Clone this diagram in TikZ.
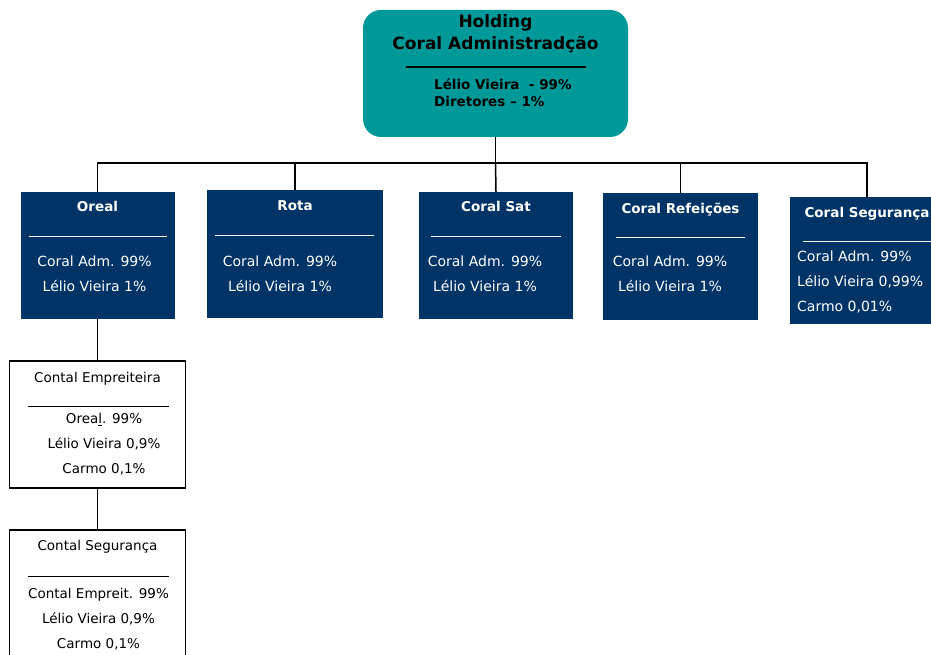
\documentclass[tikz,border=0pt]{standalone}
\usepackage{fontspec}
\setmainfont{DejaVu Sans}
\usetikzlibrary{positioning,calc}
\definecolor{holdteal}{RGB}{0,153,153}
\definecolor{firmblue}{RGB}{0,51,102}

\begin{document}
\begin{tikzpicture}[
    x=1pt, y=-1pt,
    hold/.style={fill=holdteal, rounded corners=18pt, minimum width=265pt, minimum height=127pt, inner sep=0pt},
    firm/.style={fill=firmblue, minimum width=154pt, minimum height=127pt, inner sep=0pt},
    subfirm/.style={draw=black, line width=1.2pt, fill=white, minimum width=176pt, minimum height=127pt, inner sep=0pt},
    holdtitle/.style={font=\fontsize{17}{22}\selectfont\bfseries, inner sep=0pt, align=center, anchor=north},
    holdshare/.style={font=\fontsize{13.5}{17}\selectfont\bfseries, inner sep=0pt, align=left, anchor=north west},
    title/.style={font=\fontsize{13.5}{16}\selectfont\bfseries, text=white, inner sep=0pt, anchor=base},
    share/.style={font=\fontsize{14}{25}\selectfont, text=white, inner sep=0pt, align=center, anchor=north},
    subtitle/.style={font=\fontsize{13.5}{16}\selectfont, inner sep=0pt, anchor=base},
    subshare/.style={font=\fontsize{13.5}{25}\selectfont, inner sep=0pt, align=center, anchor=north},
    rule/.style={white, line width=1pt},
    subrule/.style={black, line width=1pt},
    link/.style={black, line width=1.5pt}
]
\useasboundingbox (0,0) rectangle (931,655);

% Holding
\node[hold] (holding) at (495.5,73.5) {};
\node[holdtitle] (holdname) at ([yshift=-4.5pt]holding.north) {Holding\\Coral Administradção};
\draw[black, line width=1.5pt] ([xshift=-90pt,yshift=-57pt]holding.north) -- ++(180,0);
\node[holdshare] (holdshare) at (434,79) {Lélio Vieira\ \ - 99\%\\Diretores – 1\%};

% Subsidiaries - first row
\node[firm] (oreal) at (97.5,255.5) {};
\node[firm, minimum width=176pt, minimum height=128pt] (rota) at (295,254) {};
\node[firm] (sat) at (496,255.5) {};
\node[firm, minimum width=155pt] (refeicoes) at (680.5,256.5) {};
\node[firm] (seguranca) at (867,260.5) {};

% Titles
\node[title] (orealT) at ([yshift=-19.5pt]oreal.north) {Oreal};
\node[title] (rotaT) at ([yshift=-20.5pt]rota.north) {Rota};
\node[title] (satT) at ([yshift=-19.5pt]sat.north) {Coral Sat};
\node[title] (refeicoesT) at ([yshift=-20.5pt]refeicoes.north) {Coral Refeições};
\node[title] (segurancaT) at ([yshift=-20.5pt]seguranca.north) {Coral Segurança};

% Separators
\draw[rule] ([xshift=-69pt,yshift=-45pt]oreal.north) -- ++(138,0);
\draw[rule] ([xshift=-80pt,yshift=-46pt]rota.north) -- ++(159,0);
\draw[rule] ([xshift=-65pt,yshift=-45pt]sat.north) -- ++(130,0);
\draw[rule] ([xshift=-64.5pt,yshift=-45pt]refeicoes.north) -- ++(129,0);
\draw[rule] ([xshift=-64pt,yshift=-45pt]seguranca.north) -- ++(130,0);

% Shareholders
\node[share] (orealS) at ([xshift=-3pt,yshift=-63.5pt]oreal.north) {Coral Adm. 99\%\\Lélio Vieira 1\%};
\node[share] (rotaS) at ([xshift=-15pt,yshift=-65.5pt]rota.north) {Coral Adm. 99\%\\Lélio Vieira 1\%};
\node[share] (satS) at ([xshift=-11pt,yshift=-63.5pt]sat.north) {Coral Adm. 99\%\\Lélio Vieira 1\%};
\node[share] (refeicoesS) at ([xshift=-10.5pt,yshift=-62.5pt]refeicoes.north) {Coral Adm. 99\%\\Lélio Vieira 1\%};
\node[share, align=left, anchor=north west] (segurancaS) at ([xshift=-70pt,yshift=-53.5pt]seguranca.north) {Coral Adm. 99\%\\Lélio Vieira 0,99\%\\Carmo 0,01\%};

% Contal companies
\node[subfirm] (empreiteira) at (97.5,424.5) {};
\node[subfirm, minimum height=130pt] (contalseg) at (97.5,595) {};

\node[subtitle] (empreiteiraT) at ([yshift=-22pt]empreiteira.north) {Contal Empreiteira};
\draw[subrule] ([xshift=-70pt,yshift=-46pt]empreiteira.north) -- ++(141,0);
\node[subshare] (empreiteiraS) at ([xshift=6.5pt,yshift=-53pt]empreiteira.north) {Orea\underline{l}. 99\%\\Lélio Vieira 0,9\%\\Carmo 0,1\%};

\node[subtitle] (contalsegT) at ([yshift=-21.5pt]contalseg.north) {Contal Segurança};
\draw[subrule] ([xshift=-70pt,yshift=-47pt]contalseg.north) -- ++(141,0);
\node[subshare] (contalsegS) at ([xshift=1pt,yshift=-59pt]contalseg.north) {Contal Empreit. 99\%\\Lélio Vieira 0,9\%\\Carmo 0,1\%};

% Connectors
\coordinate (bus) at (495.5,163);
\draw[link] (holding.south) -- (bus);
\draw[link] (bus) -| (oreal.north);
\draw[link] (bus) -| (rota.north);
\draw[link] (bus) -- (sat.north);
\draw[link] (bus) -| (refeicoes.north);
\draw[link] (bus) -| (seguranca.north);
\draw[link] (oreal.south) -- (empreiteira.north);
\draw[link] (empreiteira.south) -- (contalseg.north);

\end{tikzpicture}
\end{document}
